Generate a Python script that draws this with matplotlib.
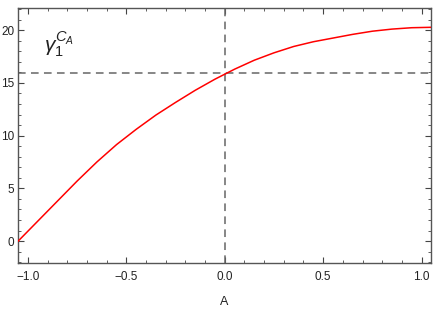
import matplotlib
matplotlib.use('Agg')
import matplotlib.pyplot as plt
from matplotlib.ticker import MultipleLocator, FuncFormatter

#Values

a_values = [-1.05, -0.95, -0.85, -0.75, -0.65, -0.55, -0.45, -0.35, -0.25, -0.15, -0.05,
            0.05, 0.15, 0.25, 0.35, 0.45, 0.55, 0.65, 0.75, 0.85, 0.95, 1.05]
gamma_values = [0.0, 1.9, 3.8, 5.7, 7.5, 9.15, 10.6, 11.95, 13.15, 14.3, 15.35,
                16.3, 17.15, 17.85, 18.45, 18.9, 19.25, 19.6, 19.9, 20.1, 20.23, 20.27]

ref_a = 0.0
ref_gamma = 15.9

plt.rcParams['font.family'] = ['Liberation Sans', 'DejaVu Sans']
plt.rcParams['mathtext.fontset'] = 'custom'
plt.rcParams['mathtext.it'] = 'Liberation Sans:italic'
plt.rcParams['mathtext.rm'] = 'Liberation Sans'

fig = plt.figure(figsize=(4.33, 3.16), dpi=100)
ax = fig.add_axes([18/433, 1 - 263/316, (431 - 18)/433, (263 - 8)/316])

ax.plot(a_values, gamma_values, color='#ff0000', lw=1.1, zorder=3)
ax.axvline(ref_a, color='#666666', ls=(0, (5, 3.5)), lw=1.1, zorder=2)
ax.axhline(ref_gamma, color='#666666', ls=(0, (5, 3.5)), lw=1.1, zorder=2)

ax.set_xlim(-1.051, 1.048)
ax.set_ylim(-2.08, 22.1)

ax.xaxis.set_major_locator(MultipleLocator(0.5))
ax.xaxis.set_minor_locator(MultipleLocator(0.1))
ax.yaxis.set_major_locator(MultipleLocator(5))
ax.yaxis.set_minor_locator(MultipleLocator(1))
ax.xaxis.set_major_formatter(FuncFormatter(lambda v, p: ('%.1f' % v).replace('-', '\u2212')))
ax.yaxis.set_major_formatter(FuncFormatter(lambda v, p: '%d' % v))

ax.tick_params(which='both', direction='in', top=True, right=True,
               colors='#444444', labelcolor='#222222', labelsize=8.5)
ax.tick_params(which='major', length=4, width=0.8)
ax.tick_params(which='minor', length=2.5, width=0.6)
ax.tick_params(axis='x', which='major', pad=6)
ax.tick_params(axis='y', which='major', pad=2.5)
for s in ax.spines.values():
   s.set_color('#555555')
   s.set_linewidth(1.0)

ax.set_xlabel('A', fontsize=9, color='#222222', labelpad=9)
ax.text(-0.92, 18.0, r'$\gamma_1^{C_A}$', fontsize=15, color='#222222')

plt.savefig('out.png', dpi=100)
